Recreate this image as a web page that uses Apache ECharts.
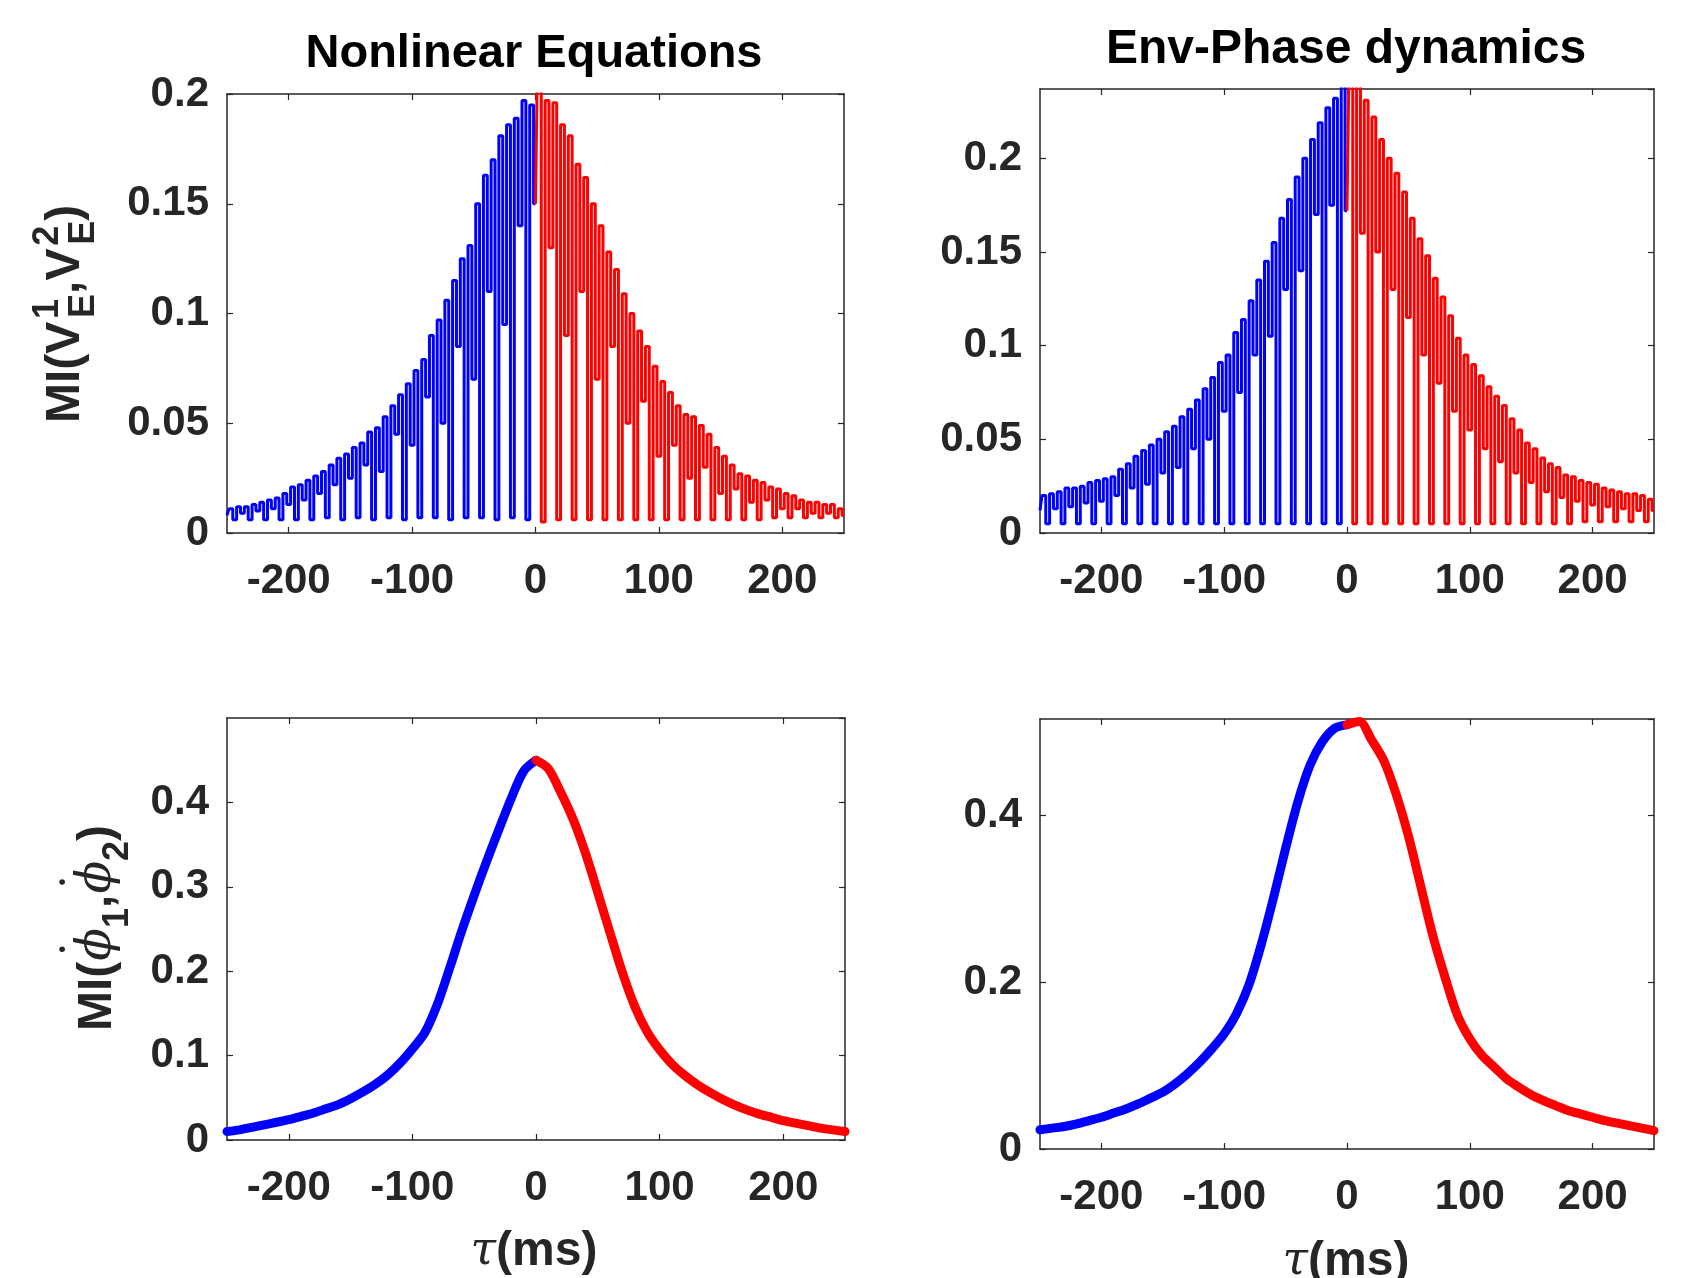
<!DOCTYPE html>
<html>
<head>
<meta charset="utf-8">
<script src="https://cdn.jsdelivr.net/npm/echarts@6/dist/echarts.min.js"></script>
<style>
  html, body { margin: 0; padding: 0; background: #fff; }
  #chart { width: 1685px; height: 1278px; }
</style>
</head>
<body>
<div id="chart"></div>
<script>
// lag sampling of the spiky MI traces (ms), dips and peaks alternate
const spikeStep = 3.125;
const xTicks = [-200, -100, 0, 100, 200];

// top left: Nonlinear Equations, MI(V_E^1, V_E^2)
const nlNegPeaks = [0.011, 0.012, 0.012, 0.013, 0.014, 0.015, 0.016, 0.018, 0.021, 0.022,
  0.024, 0.026, 0.028, 0.031, 0.034, 0.036, 0.039, 0.041, 0.046, 0.048,
  0.053, 0.058, 0.063, 0.068, 0.074, 0.079, 0.090, 0.097, 0.106, 0.115,
  0.125, 0.131, 0.150, 0.163, 0.170, 0.181, 0.186, 0.189, 0.197, 0.195];
const nlNegDips = [0.008, 0.006, 0.009, 0.006, 0.010, 0.006, 0.011, 0.006, 0.013, 0.006,
  0.015, 0.006, 0.018, 0.007, 0.022, 0.006, 0.025, 0.007, 0.031, 0.006,
  0.028, 0.007, 0.045, 0.006, 0.040, 0.007, 0.062, 0.007, 0.050, 0.006,
  0.085, 0.007, 0.070, 0.007, 0.110, 0.006, 0.095, 0.007, 0.140, 0.006,
  0.150];
const nlPosPeaks = [0.215, 0.197, 0.196, 0.186, 0.181, 0.168, 0.162, 0.150, 0.140, 0.128,
  0.120, 0.109, 0.100, 0.092, 0.085, 0.076, 0.069, 0.064, 0.058, 0.054,
  0.053, 0.049, 0.045, 0.039, 0.035, 0.031, 0.027, 0.026, 0.024, 0.023,
  0.021, 0.020, 0.018, 0.017, 0.015, 0.014, 0.014, 0.013, 0.013, 0.011];
const nlPosDips = [0.150, 0.005, 0.130, 0.006, 0.090, 0.006, 0.110, 0.006, 0.070, 0.006,
  0.085, 0.006, 0.050, 0.006, 0.060, 0.006, 0.035, 0.006, 0.040, 0.006,
  0.025, 0.006, 0.030, 0.006, 0.018, 0.006, 0.020, 0.006, 0.014, 0.006,
  0.015, 0.007, 0.011, 0.007, 0.011, 0.007, 0.009, 0.007, 0.009, 0.007,
  0.008];

// top right: Env-Phase dynamics
const epNegPeaks = [0.020, 0.021, 0.022, 0.024, 0.024, 0.025, 0.027, 0.028, 0.029, 0.030,
  0.034, 0.037, 0.041, 0.044, 0.047, 0.050, 0.054, 0.057, 0.062, 0.066,
  0.071, 0.077, 0.083, 0.091, 0.095, 0.107, 0.114, 0.124, 0.135, 0.145,
  0.155, 0.168, 0.178, 0.190, 0.200, 0.210, 0.219, 0.227, 0.232, 0.245];
const epNegDips = [0.012, 0.005, 0.013, 0.005, 0.014, 0.005, 0.016, 0.005, 0.017, 0.005,
  0.020, 0.005, 0.024, 0.005, 0.026, 0.005, 0.032, 0.005, 0.035, 0.005,
  0.045, 0.005, 0.050, 0.005, 0.065, 0.005, 0.075, 0.005, 0.095, 0.005,
  0.105, 0.005, 0.130, 0.005, 0.140, 0.005, 0.170, 0.005, 0.175, 0.005,
  0.172];
const epPosPeaks = [0.245, 0.240, 0.231, 0.222, 0.210, 0.200, 0.192, 0.182, 0.168, 0.157,
  0.148, 0.136, 0.126, 0.116, 0.104, 0.095, 0.090, 0.084, 0.078, 0.073,
  0.068, 0.061, 0.055, 0.048, 0.045, 0.040, 0.037, 0.035, 0.031, 0.030,
  0.028, 0.027, 0.026, 0.024, 0.023, 0.022, 0.021, 0.021, 0.020, 0.018];
const epPosDips = [0.172, 0.005, 0.160, 0.005, 0.150, 0.005, 0.130, 0.005, 0.115, 0.005,
  0.095, 0.005, 0.080, 0.005, 0.065, 0.005, 0.055, 0.005, 0.045, 0.005,
  0.038, 0.005, 0.032, 0.005, 0.027, 0.005, 0.022, 0.005, 0.019, 0.005,
  0.017, 0.006, 0.015, 0.006, 0.014, 0.006, 0.013, 0.006, 0.012, 0.006,
  0.012];

// bottom row: MI of phase derivatives, read every 10 ms
const lagNeg = [-250, -240, -230, -220, -210, -200, -190, -180, -170, -160, -150, -140, -130,
  -120, -110, -100, -90, -80, -70, -60, -50, -40, -30, -20, -10, 0];
const lagPos = [0, 10, 20, 30, 40, 50, 60, 70, 80, 90, 100, 110, 120,
  130, 140, 150, 160, 170, 180, 190, 200, 210, 220, 230, 240, 250];
const nlPhiNeg = [0.010, 0.012, 0.015, 0.018, 0.021, 0.024, 0.028, 0.032, 0.037, 0.042, 0.049, 0.057, 0.066,
  0.077, 0.091, 0.108, 0.127, 0.160, 0.203, 0.248, 0.290, 0.330, 0.368, 0.405, 0.437, 0.450];
const nlPhiPos = [0.450, 0.440, 0.412, 0.380, 0.340, 0.293, 0.245, 0.198, 0.158, 0.128, 0.107, 0.090, 0.077,
  0.066, 0.057, 0.049, 0.042, 0.036, 0.031, 0.027, 0.023, 0.020, 0.017, 0.014, 0.012, 0.010];
const epPhiNeg = [0.023, 0.025, 0.027, 0.030, 0.034, 0.038, 0.043, 0.048, 0.054, 0.061, 0.068, 0.078, 0.090,
  0.104, 0.120, 0.138, 0.162, 0.196, 0.244, 0.300, 0.360, 0.416, 0.460, 0.488, 0.504, 0.508];
const epPhiPos = [0.508, 0.512, 0.490, 0.465, 0.425, 0.375, 0.315, 0.255, 0.205, 0.160, 0.132, 0.112, 0.098,
  0.084, 0.074, 0.065, 0.058, 0.052, 0.046, 0.042, 0.038, 0.034, 0.031, 0.028, 0.025, 0.022];

const BLUE = '#0000ff';
const RED = '#ff0000';
const INK = '#262626';
const FONT = '"Liberation Sans", Arial, sans-serif';
const SERIF = '"DejaVu Serif", serif';

function spikes(start, dips, peaks) {
  let out = [];
  let n = dips.length + peaks.length;
  for (let i = 0; i < n; i++) {
    let v = i % 2 === 0 ? dips[i / 2] : peaks[(i - 1) / 2];
    out.push([start + i * spikeStep, v]);
  }
  return out;
}

function pairs(xs, ys) {
  return xs.map((x, i) => [x, ys[i]]);
}

let xAxes = [];
let yAxes = [];
function addAxes(gi, yMax, yStep) {
  let line = { show: true, onZero: false, lineStyle: { color: INK, width: 1.5 } };
  let tick = { show: true, inside: true, length: 6, lineStyle: { color: INK, width: 1.2 } };
  xAxes.push({
    type: 'value', gridIndex: gi, position: 'bottom', min: -250, max: 250,
    axisLine: line, splitLine: { show: false },
    axisTick: Object.assign({ customValues: xTicks }, tick),
    axisLabel: { customValues: xTicks, margin: 27, color: INK, fontFamily: FONT, fontWeight: 'bold', fontSize: 42 }
  });
  xAxes.push({
    type: 'value', gridIndex: gi, position: 'top', min: -250, max: 250,
    axisLine: line, splitLine: { show: false },
    axisTick: Object.assign({ customValues: xTicks }, tick),
    axisLabel: { show: false }
  });
  yAxes.push({
    type: 'value', gridIndex: gi, position: 'left', min: 0, max: yMax, interval: yStep,
    axisLine: line, splitLine: { show: false }, axisTick: tick,
    axisLabel: { showMaxLabel: yMax === 0.2, margin: 18, padding: [5, 0, 0, 0], color: INK, fontFamily: FONT, fontWeight: 'bold', fontSize: 42 }
  });
  yAxes.push({
    type: 'value', gridIndex: gi, position: 'right', min: 0, max: yMax, interval: yStep,
    axisLine: line, splitLine: { show: false }, axisTick: tick,
    axisLabel: { show: false }
  });
}

addAxes(0, 0.2, 0.05);
addAxes(1, 0.237, 0.05);
addAxes(2, 0.5, 0.1);
addAxes(3, 0.515, 0.2);

function spikeSeries(gi, data, color) {
  return {
    type: 'line', xAxisIndex: gi * 2, yAxisIndex: gi * 2, data: data,
    step: 'middle', showSymbol: false, clip: true,
    lineStyle: { color: color, width: 3 }
  };
}
function smoothSeries(gi, data, color) {
  return {
    type: 'line', xAxisIndex: gi * 2, yAxisIndex: gi * 2, data: data,
    showSymbol: false, smooth: 0.3, clip: true,
    lineStyle: { color: color, width: 9, cap: 'round', join: 'round' }
  };
}

// stacked sup/sub: the superscript token is 1px wide so the subscript lands under it
const vRich = {
  m: { fontFamily: FONT, fontWeight: 'bold', fontSize: 48, fill: INK, lineHeight: 72 },
  gap: { fontFamily: FONT, fontSize: 10, fill: INK },
  sp: { fontFamily: FONT, fontWeight: 'bold', fontSize: 36, fill: INK, verticalAlign: 'top', width: 1 },
  sb: { fontFamily: FONT, fontWeight: 'bold', fontSize: 36, fill: INK, verticalAlign: 'bottom' }
};
const phiRich = {
  m: { fontFamily: FONT, fontWeight: 'bold', fontSize: 48, fill: INK, lineHeight: 76 },
  dt: { fontFamily: SERIF, fontSize: 50, fill: INK, verticalAlign: 'top', width: 1 },
  p: { fontFamily: SERIF, fontStyle: 'italic', fontSize: 48, fill: INK },
  sb: { fontFamily: FONT, fontWeight: 'bold', fontSize: 36, fill: INK, verticalAlign: 'bottom' }
};
const tauRich = {
  m: { fontFamily: FONT, fontWeight: 'bold', fontSize: 48, fill: INK },
  t: { fontFamily: SERIF, fontStyle: 'italic', fontSize: 46, fill: INK }
};

let option = {
  backgroundColor: '#ffffff',
  animation: false,
  grid: [
    { left: 227, top: 94, width: 617, height: 439, outerBoundsMode: 'none' },
    { left: 1040, top: 89, width: 614, height: 444, outerBoundsMode: 'none' },
    { left: 227, top: 718, width: 618, height: 422, outerBoundsMode: 'none' },
    { left: 1040, top: 719, width: 614, height: 430, outerBoundsMode: 'none' }
  ],
  xAxis: xAxes,
  yAxis: yAxes,
  graphic: [
    { type: 'text', x: 534, y: 54, style: { text: 'Nonlinear Equations', fontFamily: FONT, fontWeight: 'bold', fontSize: 47, fill: '#000', align: 'center', verticalAlign: 'middle' } },
    { type: 'text', x: 1346, y: 50, style: { text: 'Env-Phase dynamics', fontFamily: FONT, fontWeight: 'bold', fontSize: 48, fill: '#000', align: 'center', verticalAlign: 'middle' } },
    { type: 'text', x: 66, y: 423, rotation: Math.PI / 2, style: {
      text: '{m|MI(V}{gap| }{sp|1}{sb|E}{m|,V}{gap| }{sp|2}{sb|E}{m|)}', rich: vRich, align: 'left', verticalAlign: 'middle' } },
    { type: 'text', x: 98, y: 1031, rotation: Math.PI / 2, style: {
      text: '{m|MI(}{dt|\u02D9}{p|\u03D5}{sb|1}{m|,}{dt|\u02D9}{p|\u03D5}{sb|2}{m|)}', rich: phiRich, align: 'left', verticalAlign: 'middle' } },
    { type: 'text', x: 534, y: 1252, style: { text: '{t|\u03C4}{m|(ms)}', rich: tauRich, align: 'center', verticalAlign: 'middle' } },
    { type: 'text', x: 1346, y: 1262, style: { text: '{t|\u03C4}{m|(ms)}', rich: tauRich, align: 'center', verticalAlign: 'middle' } }
  ],
  series: [
    spikeSeries(0, spikes(-250, nlNegDips, nlNegPeaks), BLUE),
    spikeSeries(0, spikes(0, nlPosDips, nlPosPeaks), RED),
    spikeSeries(1, spikes(-250, epNegDips, epNegPeaks), BLUE),
    spikeSeries(1, spikes(0, epPosDips, epPosPeaks), RED),
    smoothSeries(2, pairs(lagNeg, nlPhiNeg), BLUE),
    smoothSeries(2, pairs(lagPos, nlPhiPos), RED),
    smoothSeries(3, pairs(lagNeg, epPhiNeg), BLUE),
    smoothSeries(3, pairs(lagPos, epPhiPos), RED)
  ]
};

let myChart = echarts.init(document.getElementById('chart'));
myChart.setOption(option);
</script>
</body>
</html>
